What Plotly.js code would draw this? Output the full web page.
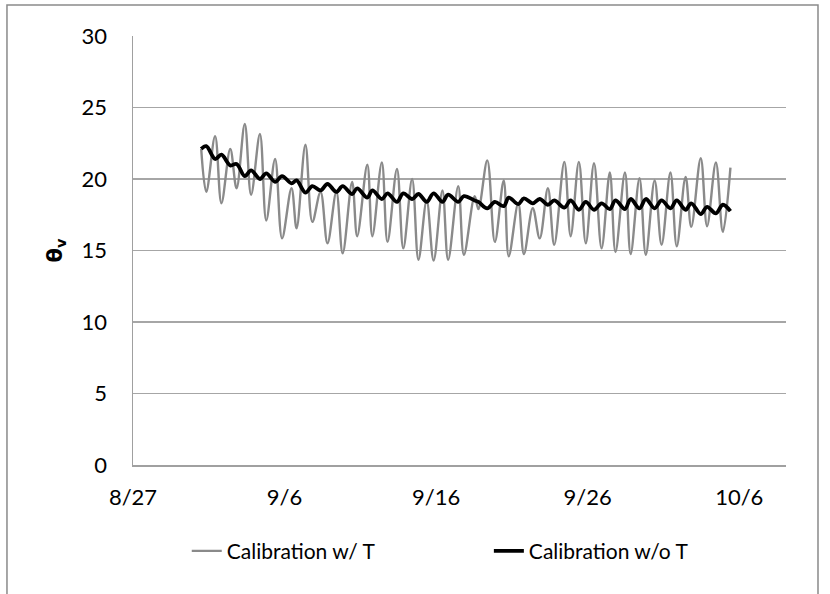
<!DOCTYPE html>
<html>
<head>
<meta charset="utf-8">
<script src="https://cdn.plot.ly/plotly-3.0.1.min.js"></script>
<style>html,body{margin:0;padding:0;background:#fff;}#chart{width:830px;height:594px;}</style>
</head>
<body>
<div id="chart"></div>
<script>
// Time stamps of the daily turning points
const times = [
  "2011-08-31 12:00","2011-08-31 20:00","2011-09-01 10:00","2011-09-01 20:00",
  "2011-09-02 10:00","2011-09-02 20:00","2011-09-03 09:00","2011-09-03 19:00",
  "2011-09-04 09:00","2011-09-04 19:00","2011-09-05 09:00","2011-09-05 20:00",
  "2011-09-06 11:00","2011-09-06 19:00","2011-09-07 09:00","2011-09-07 20:00",
  "2011-09-08 09:00","2011-09-08 20:00","2011-09-09 10:00","2011-09-09 20:00",
  "2011-09-10 11:00","2011-09-10 19:00","2011-09-11 11:00","2011-09-11 19:00",
  "2011-09-12 10:00","2011-09-12 19:00","2011-09-13 10:00","2011-09-13 20:00",
  "2011-09-14 10:00","2011-09-14 20:00","2011-09-15 09:00","2011-09-15 20:00",
  "2011-09-16 10:00","2011-09-16 19:00","2011-09-17 11:00","2011-09-17 20:00",
  "2011-09-18 13:00","2011-09-18 19:00","2011-09-19 09:00","2011-09-19 21:00",
  "2011-09-20 11:00","2011-09-20 19:00","2011-09-21 10:00","2011-09-21 19:00",
  "2011-09-22 09:00","2011-09-22 20:00","2011-09-23 09:00","2011-09-23 19:00",
  "2011-09-24 11:00","2011-09-24 21:00","2011-09-25 10:00","2011-09-25 21:00",
  "2011-09-26 10:00","2011-09-26 22:00","2011-09-27 11:00","2011-09-27 20:00",
  "2011-09-28 11:00","2011-09-28 20:00","2011-09-29 10:00","2011-09-29 20:00",
  "2011-09-30 10:00","2011-09-30 21:00","2011-10-01 11:00","2011-10-01 21:00",
  "2011-10-02 11:00","2011-10-02 20:00","2011-10-03 11:00","2011-10-03 21:00",
  "2011-10-04 11:00","2011-10-04 22:00","2011-10-05 10:00"
];

// Calibration w/ T
const withT = [
  22.1,19.1,23.0,18.3,22.1,19.35,23.85,18.9,23.15,17.1,21.4,15.85,
  19.35,16.55,22.4,17.0,19.1,15.5,19.1,14.8,19.8,16.0,21.0,16.0,
  21.15,15.6,20.7,15.15,20.0,14.35,18.5,14.3,19.2,14.35,19.5,14.7,
  18.8,17.9,21.3,15.6,19.9,14.6,18.3,14.75,17.95,15.85,19.35,15.4,
  21.2,16.0,21.2,15.5,21.1,15.15,20.45,14.9,20.45,14.75,20.05,14.7,
  19.9,15.4,20.45,15.3,20.15,16.65,21.45,16.7,21.15,16.3,20.8
];

// Calibration w/o T
const withoutT = [
  22.1,22.3,21.4,21.7,20.95,21.05,20.2,20.6,20.0,20.4,19.8,20.2,
  19.7,19.9,19.05,19.5,19.2,19.65,19.1,19.5,18.95,19.35,18.7,19.2,
  18.6,19.0,18.4,19.0,18.6,18.95,18.4,19.0,18.4,18.9,18.4,18.8,
  18.5,18.4,17.95,18.4,18.1,18.7,18.25,18.65,18.3,18.6,18.2,18.5,
  18.0,18.5,17.85,18.4,17.85,18.3,17.9,18.5,17.9,18.6,17.95,18.6,
  17.95,18.5,17.95,18.5,17.85,18.3,17.55,18.05,17.6,18.2,17.75
];

const xTickVals = ["2011-08-27","2011-09-06","2011-09-16","2011-09-26","2011-10-06"];
const xTickText = ["8/27","9/6","9/16","9/26","10/6"];
const yTickVals = [0,5,10,15,20,25,30];

const FONT = "Lato, 'Open Sans', sans-serif";

const traces = [
  {x: times, y: withT, type: "scatter", mode: "lines", name: "Calibration w/ T",
   legend: "legend",
   line: {color: "#8a8a8a", width: 2.4, shape: "spline", smoothing: 1}},
  {x: times, y: withoutT, type: "scatter", mode: "lines", name: "Calibration w/o T",
   legend: "legend2",
   line: {color: "#000000", width: 3.8, shape: "spline", smoothing: 1}}
];

const legendStyle = (xpos) => ({
  orientation: "h", xref: "container", yref: "container", x: xpos, xanchor: "left",
  y: 0.072, yanchor: "middle",
  font: {family: FONT, size: 21, color: "#000"}, bgcolor: "rgba(0,0,0,0)"
});

const layout = {
  width: 830, height: 594,
  margin: {l: 133, r: 44, t: 36, b: 129},
  paper_bgcolor: "#ffffff", plot_bgcolor: "#ffffff",
  font: {family: FONT, size: 21, color: "#000"},
  showlegend: true,
  legend: legendStyle(0.225),
  legend2: legendStyle(0.589),
  xaxis: {type: "date", range: ["2011-08-27", "2011-10-09 02:00"],
          tickvals: xTickVals, ticktext: xTickText, showgrid: false,
          showline: true, linecolor: "#a0a0a0", linewidth: 1.5,
          ticks: "outside", ticklen: 12, tickcolor: "rgba(0,0,0,0)",
          tickfont: {family: FONT, size: 22}, zeroline: false},
  yaxis: {range: [0, 30], tickvals: yTickVals, showgrid: true, gridcolor: "#a6a6a6", gridwidth: 1.3,
          showline: true, linecolor: "#a0a0a0", linewidth: 1.5, zeroline: false,
          ticks: "outside", ticklen: 20, tickcolor: "rgba(0,0,0,0)",
          tickfont: {family: FONT, size: 22},
          title: {text: "<b>θ<sub>v</sub></b>",
                  font: {family: "'DejaVu Sans', sans-serif", size: 21, weight: "bold"}, standoff: 13}},
  shapes: [
    {type: "rect", xref: "paper", yref: "paper", x0: -0.193, x1: 1.049, y0: -0.33, y1: 1.072,
     line: {color: "#8a8a8a", width: 1.5}, fillcolor: "rgba(0,0,0,0)", layer: "below"}
  ]
};

Plotly.newPlot("chart", traces, layout, {displayModeBar: false, staticPlot: true});
</script>
</body>
</html>
